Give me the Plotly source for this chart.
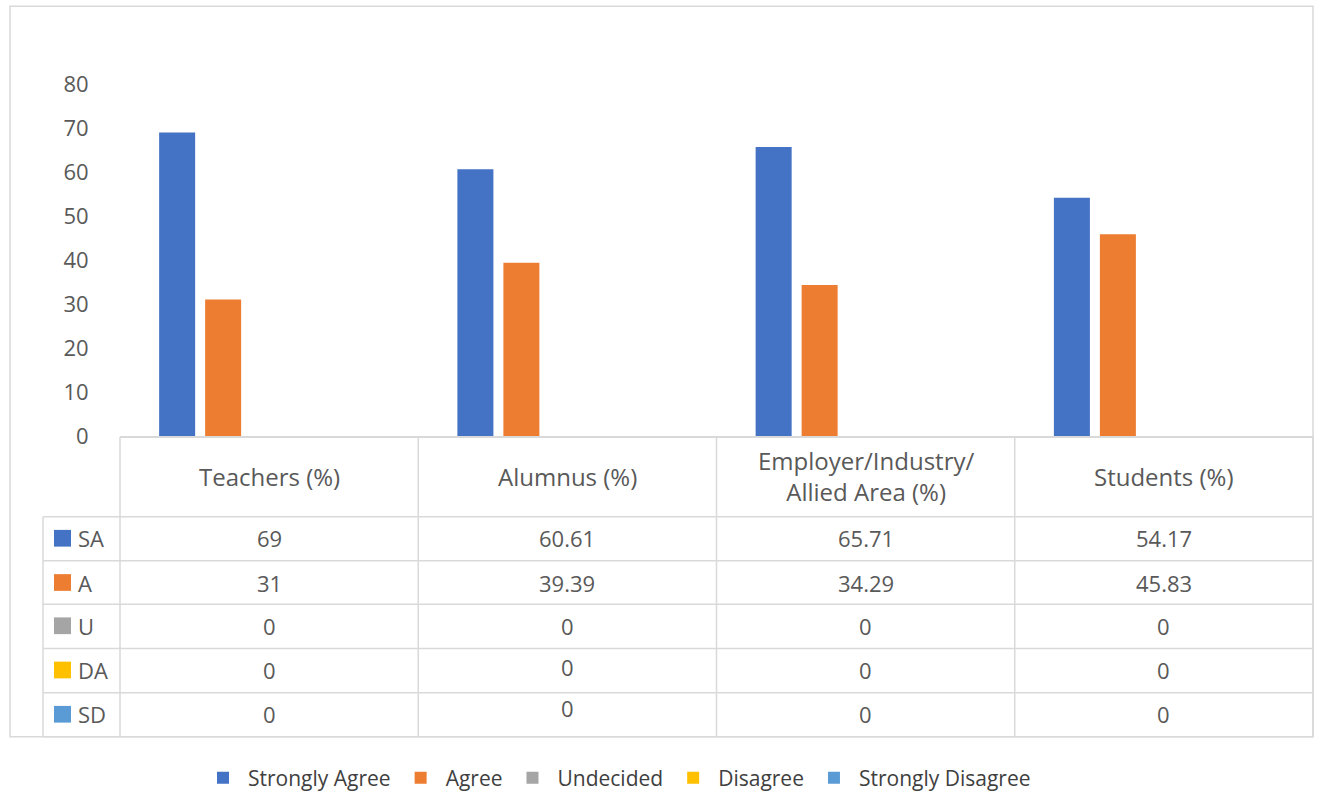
import plotly.graph_objects as go

# ---------------- data ----------------
categories = ["Teachers (%)", "Alumnus (%)", "Employer/Industry/<br>Allied Area (%)", "Students (%)"]
series_names = ["Strongly Agree", "Agree", "Undecided", "Disagree", "Strongly Disagree"]
row_labels = ["SA", "A", "U", "DA", "SD"]
sa_values = [69, 60.61, 65.71, 54.17]
a_values = [31, 39.39, 34.29, 45.83]
u_values = [0, 0, 0, 0]
da_values = [0, 0, 0, 0]
sd_values = [0, 0, 0, 0]
y_ticks = [0, 10, 20, 30, 40, 50, 60, 70, 80]

# ---------------- style ----------------
colors = ["#4472C4", "#ED7D31", "#A5A5A5", "#FFC000", "#5B9BD5"]
FONT = "Open Sans"
TXT = "#595959"
GRID = "#D9D9D9"
W, H = 1330, 810
# plot area in reference pixels: x 120..1313, y 84..442
L, T = 120, 84
R = W - 1313
B = H - 442
PW, PH = W - L - R, H - T - B


def px2x(px):
    return (px - L) / PW


def px2y(py):
    return (H - B - py) / PH


# small vertical offsets seen in the reference for a few table cells (row, col) -> px up
cell_shift = {(3, 1): 3, (4, 1): 6}

series_values = [sa_values, a_values, u_values, da_values, sd_values]

fig = go.Figure()
for name, vals, col in zip(series_names, series_values, colors):
    fig.add_trace(go.Bar(x=categories, y=vals, name=name, marker=dict(color=col, line=dict(width=0))))

line_style = dict(color=GRID, width=1.5)
shapes = []
# outer border
shapes.append(dict(type="rect", xref="paper", yref="paper", x0=px2x(10), x1=1.0, y0=px2y(748), y1=px2y(5),
                   line=line_style))
# table horizontal lines
row_edges = [524, 569, 613, 658, 703, 748]
for yy in row_edges:
    shapes.append(dict(type="line", xref="paper", yref="paper", x0=px2x(43), x1=1.0, y0=px2y(yy), y1=px2y(yy),
                       line=line_style))
# vertical lines
for xx in [0.0, 1.0]:
    shapes.append(dict(type="line", xref="paper", yref="paper", x0=xx, x1=xx, y0=px2y(443), y1=px2y(748),
                       line=line_style))
for i in range(1, len(categories)):
    shapes.append(dict(type="line", xref="x", yref="paper", x0=i - 0.5, x1=i - 0.5, y0=px2y(443), y1=px2y(748),
                       line=line_style))
shapes.append(dict(type="line", xref="paper", yref="paper", x0=px2x(43), x1=px2x(43), y0=px2y(524), y1=px2y(748),
                   line=line_style))

annotations = []
# header row
for c in categories:
    annotations.append(dict(x=c, xref="x", y=px2y(483), yref="paper", text=c, showarrow=False,
                            font=dict(family=FONT, size=24, color=TXT), xanchor="center", yanchor="middle"))
# data rows
row_centers = [546, 591, 635, 680, 725]
for r, (lab, vals, col) in enumerate(zip(row_labels, series_values, colors)):
    yc = row_centers[r]
    shapes.append(dict(type="rect", xref="paper", yref="paper", x0=px2x(54), x1=px2x(71),
                       y0=px2y(yc + 8.5), y1=px2y(yc - 8.5), fillcolor=col, line=dict(width=0)))
    annotations.append(dict(x=px2x(76), xref="paper", y=px2y(yc), yref="paper", text=lab, showarrow=False,
                            font=dict(family=FONT, size=22, color=TXT), xanchor="left", yanchor="middle"))
    for ci, (c, v) in enumerate(zip(categories, vals)):
        annotations.append(dict(x=c, xref="x", y=px2y(yc), yref="paper", text=f"{v:g}", showarrow=False,
                                yshift=cell_shift.get((r, ci), 0),
                                font=dict(family=FONT, size=22, color=TXT), xanchor="center", yanchor="middle"))

fig.update_layout(
    width=W, height=H,
    margin=dict(l=L, r=R, t=T, b=B),
    paper_bgcolor="white", plot_bgcolor="white",
    barmode="group", bargap=0.229, bargroupgap=0.217,
    showlegend=True,
    legend=dict(orientation="h", x=px2x(617), xanchor="center", y=px2y(790), yanchor="middle",
                itemwidth=40, font=dict(family=FONT, size=21, color="#404040"), bgcolor="rgba(0,0,0,0)"),
    xaxis=dict(type="category", range=[-0.5, 3.5], showticklabels=False, ticks="", showgrid=False,
               zeroline=False, showline=True, linecolor=GRID, linewidth=1.5, fixedrange=True),
    yaxis=dict(range=[0, 80], tickvals=y_ticks, showgrid=False, zeroline=False, showline=False,
               ticks="outside", ticklen=26, tickcolor="rgba(0,0,0,0)",
               tickfont=dict(family=FONT, size=22, color=TXT), fixedrange=True),
    shapes=shapes,
    annotations=annotations,
    hovermode=False,
)

fig.write_html("out.html", config={"displayModeBar": False},
               post_script="document.body.style.margin='0';document.body.style.overflow='hidden';")
